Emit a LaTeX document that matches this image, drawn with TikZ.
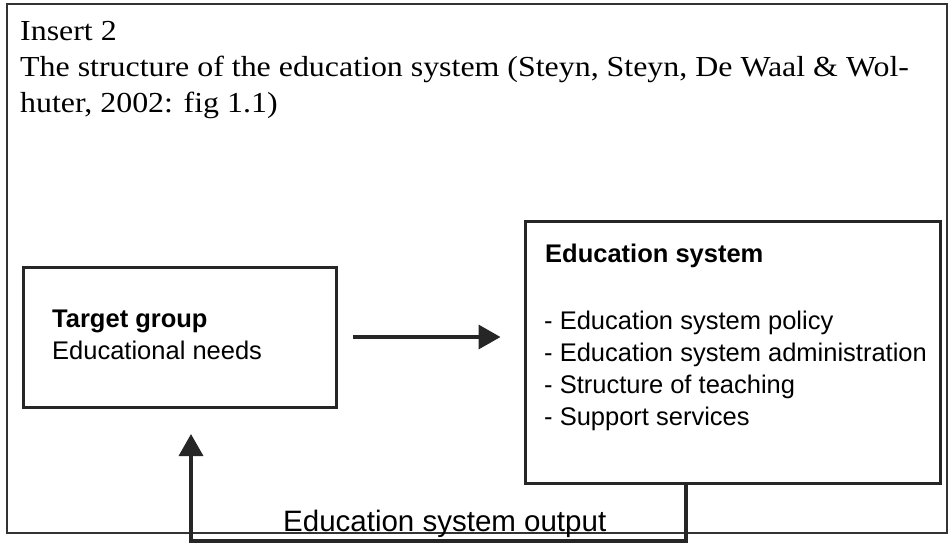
\documentclass[tikz,border=0pt]{standalone}
\usepackage{graphicx}
\usepackage{fontspec}
\setmainfont{Liberation Serif}
\newfontfamily\arialf{Liberation Sans}
\newcommand{\widetitle}[1]{\scalebox{1.1}[1]{#1}}
\usetikzlibrary{arrows.meta}
\begin{document}
\begin{tikzpicture}[x=1pt,y=-1pt,
  titletxt/.style={anchor=base west,inner sep=0pt,font=\fontsize{29}{35}\selectfont},
  boxtxt/.style={anchor=base west,inner sep=0pt,font=\arialf\fontsize{25.5}{30}\selectfont},
  boxbold/.style={anchor=base west,inner sep=0pt,font=\arialf\bfseries\fontsize{25.5}{30}\selectfont},
  outtxt/.style={anchor=base west,inner sep=0pt,font=\arialf\fontsize{29.5}{34}\selectfont},
  sysbox/.style={draw=black!85,line width=3pt,inner sep=0pt},
  conn/.style={draw=black!85,line width=3.5pt},
  arr/.style={-{Triangle[length=22pt,width=24pt]}}]
\useasboundingbox (0,0) rectangle (949,544);
\fill[white] (0,0) rectangle (949,544);
\draw[line width=2pt,black!80] (7,4) rectangle (947,533);
\node[titletxt] (t1) at (20,40) {\widetitle{Insert 2}};
\node[titletxt] (t2) at (20,76) {\widetitle{The structure of the education system (Steyn, Steyn, De Waal \& Wol-}};
\node[titletxt] (t3) at (20,112) {\widetitle{huter, 2002: fig 1.1)}};
\node[sysbox,minimum width=313pt,minimum height=140pt] (tg) at (179.5,337) {};
\node[sysbox,minimum width=415pt,minimum height=262pt] (es) at (732.5,352) {};
\node[boxbold] (tgt) at (52,327) {Target group};
\node[boxtxt] (tgn) at (52,359) {Educational needs};
\node[boxbold] (est) at (545,262) {Education system};
\node[boxtxt] (e1) at (544,329) {- Education system policy};
\node[boxtxt] (e2) at (544,361) {- Education system administration};
\node[boxtxt] (e3) at (544,393) {- Structure of teaching};
\node[boxtxt] (e4) at (544,425) {- Support services};
\node[outtxt] (out) at (283,531) {Education system output};
\coordinate (f1) at (686,541);
\coordinate (f2) at (191,541);
\coordinate (f3) at (191,434);
\draw[conn,arr] ([xshift=15pt]tg.east) -- ([xshift=-23pt]es.west |- tg.east);
\draw[conn,arr] (es.south -| f1) -- (f1) -- (f2) -- (f3);
\end{tikzpicture}
\end{document}
